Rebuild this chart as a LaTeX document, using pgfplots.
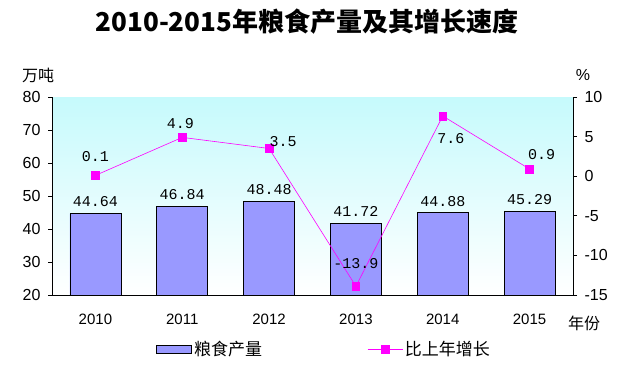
\documentclass[border=0pt]{standalone}
\usepackage{fontspec}
\usepackage{pgfplots}
\pgfplotsset{compat=1.18}
\setmainfont{Liberation Sans}
\newfontfamily\cjk{Noto Sans CJK SC}
\newfontfamily\mono{Liberation Mono}
\definecolor{barc}{HTML}{9999FF}
\definecolor{linec}{HTML}{FF00FF}
\definecolor{bgtop}{RGB}{198,250,252}
\pgfplotsset{
  mylineleg/.style={legend image code/.code={\draw[##1, mark=none] (0pt,0pt) -- (35pt,0pt); \draw[##1] plot coordinates {(17.5pt,0pt)};}},
  mybarleg/.style={legend image code/.code={\draw[fill=barc, draw=black, line width=0.8pt] (0pt,-4pt) rectangle (35pt,4pt);}},
}
\begin{document}
\begin{tikzpicture}[x=1pt,y=1pt]
\useasboundingbox (0,0) rectangle (637,374);
\node[font=\cjk\bfseries\fontsize{26}{28}\selectfont] at (307,352) {2010-2015年粮食产量及其增长速度};
\node[font=\cjk\fontsize{16}{18}\selectfont] at (38,299) {万吨};
\node[font=\fontsize{16}{18}\selectfont] at (583,299) {\%};
\node[font=\cjk\fontsize{16}{18}\selectfont] at (584,51) {年份};
\begin{axis}[
  at={(52pt,79pt)}, anchor=south west,
  width=521pt, height=198pt, scale only axis,
  xmin=-0.5, xmax=5.5, ymin=20, ymax=80,
  axis x line*=bottom, axis y line*=left,
  axis line style={line width=0.8pt},
  axis background/.style={top color=bgtop, bottom color=white},
  ytick={20,30,...,80},
  xtick={0,...,5}, xticklabels={2010,2011,2012,2013,2014,2015},
  major x tick style={draw=none},
  extra x ticks={0.5,1.5,2.5,3.5,4.5},
  extra x tick labels={},
  extra x tick style={major x tick style={black, line width=0.6pt}, tick align=inside, major tick length=5pt},
  y tick style={black, line width=0.6pt},
  ytick align=outside, major tick length=4pt,
  /pgf/number format/assume math mode=true,
  yticklabel style={font=\fontsize{16}{18}\selectfont, xshift=-4pt},
  xticklabel style={font=\fontsize{15}{17}\selectfont, yshift=-11pt},
  ybar, bar width=51pt,
  clip=false,
]
\addplot[fill=barc, draw=black, line width=0.8pt,
  nodes near coords, point meta=explicit symbolic,
  every node near coord/.append style={font=\mono\fontsize{15}{17}\selectfont, yshift=3pt}]
  coordinates {(0,44.64)[44.64] (1,46.84)[46.84] (2,48.48)[48.48] (3,41.72)[41.72] (4,44.88)[44.88] (5,45.29)[45.29]};
\end{axis}
\begin{axis}[
  at={(52pt,79pt)}, anchor=south west,
  width=521pt, height=198pt, scale only axis,
  xmin=-0.5, xmax=5.5, ymin=-15, ymax=10,
  axis x line=none, axis y line*=right,
  axis line style={line width=0.8pt},
  ytick={-15,-10,...,10},
  y tick style={black, line width=0.6pt},
  ytick align=outside, major tick length=4pt,
  /pgf/number format/assume math mode=true,
  yticklabel style={font=\fontsize{16}{18}\selectfont, xshift=4pt},
  clip=false,
  legend style={at={(0.20,-0.273)}, anchor=west, draw=none, fill=none,
    font=\cjk\fontsize{17}{19}\selectfont, inner sep=0pt,
    /tikz/every even column/.append style={column sep=103pt}},
  legend columns=2,
  legend cell align=left,
]
\addlegendimage{mybarleg}
\addlegendentry{粮食产量}
\addplot[linec, line width=0.6pt, mark=square*, mark size=3.8pt,
  mark options={solid, fill=linec},
  mylineleg,
  nodes near coords, point meta=explicit symbolic,
  visualization depends on={\thisrow{dx} \as \dx},
  visualization depends on={\thisrow{dy} \as \dy},
  every node near coord/.append style={font=\mono\fontsize{15}{17}\selectfont, black, anchor=center, xshift=\dx pt, yshift=\dy pt}]
  table[x=x, y=y, meta=lab] {
x y dx dy lab
0 0.1 0 19 0.1
1 4.9 -2 14 4.9
2 3.5 14 7 3.5
3 -13.9 0 23 -13.9
4 7.6 8 -23 7.6
5 0.9 12 15 0.9
};
\addlegendentry{比上年增长}
\end{axis}
\end{tikzpicture}
\end{document}
